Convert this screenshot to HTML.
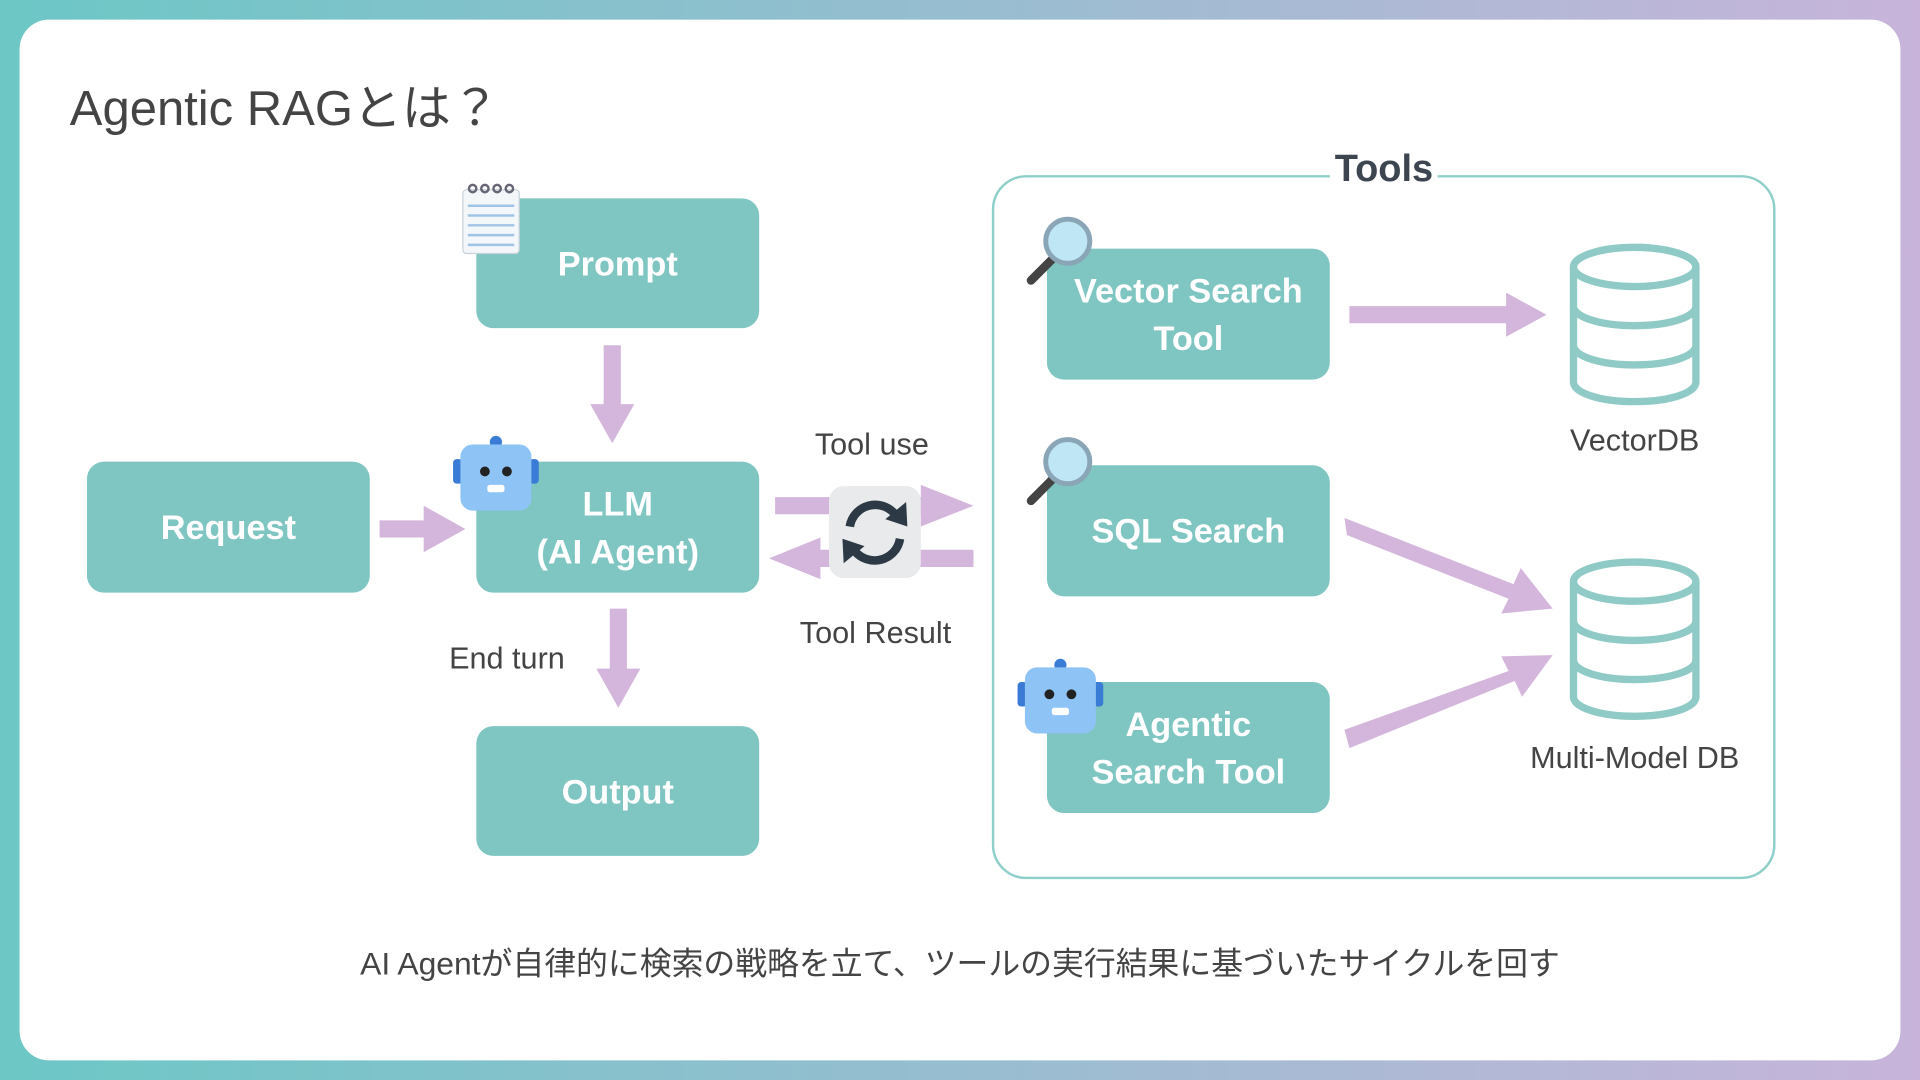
<!DOCTYPE html>
<html><head><meta charset="utf-8"><style>
html,body{margin:0;padding:0;width:1920px;height:1080px;overflow:hidden}
#w{position:absolute;left:0;top:0;width:1568px;height:882px;transform:scale(1.22449);transform-origin:0 0;background:linear-gradient(90deg,#6cc7c5 0%,#97bdd0 50%,#c8b4db 100%);font-family:"Liberation Sans","Noto Sans CJK JP",sans-serif}
.card{position:absolute;left:16px;top:16px;width:1536px;height:850px;background:#fff;border-radius:24px}
.box{position:absolute;background:#7fc6c2;border-radius:14px;color:#fff;font-weight:bold;font-size:28px;display:flex;align-items:center;justify-content:center;text-align:center;line-height:39px}
.t{position:absolute;color:#444;font-size:25px;white-space:nowrap;transform:translateX(-50%)}
</style></head><body><div id="w">
<div class="card"></div>
<div style="position:absolute;left:57px;top:56px;font-size:40px;color:#444">Agentic RAGとは？</div>
<div style="position:absolute;left:810px;top:143px;width:636px;height:571px;border:2px solid #8fcfca;border-radius:28px"></div>
<div style="position:absolute;left:1086px;top:120px;padding:0 4px;background:#fff;font-size:31px;font-weight:bold;color:#3d4650">Tools</div>
<div class="box" style="left:389px;top:162px;width:231px;height:106px">Prompt</div>
<div class="box" style="left:71px;top:377px;width:231px;height:107px">Request</div>
<div class="box" style="left:389px;top:377px;width:231px;height:107px">LLM<br>(AI Agent)</div>
<div class="box" style="left:389px;top:593px;width:231px;height:106px">Output</div>
<div class="box" style="left:855px;top:203px;width:231px;height:107px">Vector Search<br>Tool</div>
<div class="box" style="left:855px;top:380px;width:231px;height:107px">SQL Search</div>
<div class="box" style="left:855px;top:557px;width:231px;height:107px">Agentic<br>Search Tool</div>
<div class="t" style="left:712px;top:349px">Tool use</div>
<div class="t" style="left:715px;top:503px">Tool Result</div>
<div class="t" style="left:414px;top:524px">End turn</div>
<div class="t" style="left:1335px;top:346px">VectorDB</div>
<div class="t" style="left:1335px;top:605px">Multi-Model DB</div>
<div class="t" style="left:784px;top:767px;font-size:26px">AI Agentが自律的に検索の戦略を立て、ツールの実行結果に基づいたサイクルを回す</div>
<svg style="position:absolute;left:0;top:0" width="1568" height="882">
<defs><g id="db"><g fill="none" stroke="#8fcac6" stroke-width="6">
<ellipse cx="53" cy="18" rx="50" ry="16"/><path d="M3 18V112c0 9 22 16 50 16s50-7 50-16V18"/>
<path d="M3 50c0 9 22 16 50 16s50-7 50-16M3 82c0 9 22 16 50 16s50-7 50-16"/></g></g>
<g id="mag"><line x1="6" y1="54" x2="24" y2="36" stroke="#444" stroke-width="7" stroke-linecap="round"/><circle cx="36" cy="22" r="18" fill="#bfe6f5" stroke="#8aa5b5" stroke-width="4"/></g>
<g id="bot"><circle cx="35" cy="6" r="5" fill="#3a7bd5"/><rect x="0" y="20" width="8" height="20" rx="3" fill="#3a7bd5"/><rect x="62" y="20" width="8" height="20" rx="3" fill="#3a7bd5"/><rect x="6" y="8" width="58" height="54" rx="10" fill="#8ec3f5"/><circle cx="26" cy="30" r="4" fill="#222"/><circle cx="44" cy="30" r="4" fill="#222"/><rect x="28" y="41" width="14" height="6" rx="2" fill="#fff"/></g></defs>
<g fill="#d4b5dc">
<polygon points="493,282 507,282 507,330 518,330 500,362 482,330 493,330"/>
<polygon points="310,425 346,425 346,413 380,432 346,451 346,439 310,439"/>
<polygon points="498,497 512,497 512,546 523,546 505,578 487,546 498,546"/>
<polygon points="633,406 752,406 752,396 795,413 752,430 752,420 633,420"/>
<polygon points="795,449 670,449 670,439 628,456 670,473 670,463 795,463"/>
<polygon points="1102,250 1230,250 1230,239 1263,257 1230,275 1230,264 1102,264"/>
<polygon points="1098,423 1236,477 1242,464 1268,497 1226,501 1232,489 1100,437"/>
<polygon points="1098,596 1232,548 1226,536 1268,535 1243,569 1237,556 1102,611"/>
</g>
<rect x="677" y="397" width="75" height="75" rx="12" fill="#e9eaec"/>
<g fill="none" stroke="#2d3a45" stroke-width="7"><path d="M694 430a21 21 0 0 1 37-10"/><path d="M735 440a21 21 0 0 1-37 10"/></g>
<polygon points="740,410 741,430 723,424" fill="#2d3a45"/><polygon points="689,460 688,440 706,446" fill="#2d3a45"/>
<use href="#db" x="1282" y="200"/><use href="#db" x="1282" y="457"/>
<use href="#mag" x="836" y="175"/><use href="#mag" x="836" y="355"/>
<use href="#bot" x="370" y="355"/><use href="#bot" x="831" y="537"/>
<rect x="378" y="155" width="46" height="52" rx="3" fill="#f4f7fa" stroke="#c8d2da"/>
<g stroke="#9fc4e6" stroke-width="2"><line x1="382" y1="168" x2="420" y2="168"/><line x1="382" y1="176" x2="420" y2="176"/><line x1="382" y1="184" x2="420" y2="184"/><line x1="382" y1="192" x2="420" y2="192"/><line x1="382" y1="200" x2="420" y2="200"/></g>
<g fill="none" stroke="#667" stroke-width="2"><circle cx="386" cy="154" r="3"/><circle cx="396" cy="154" r="3"/><circle cx="406" cy="154" r="3"/><circle cx="416" cy="154" r="3"/></g>
</svg>
</div></body></html>
